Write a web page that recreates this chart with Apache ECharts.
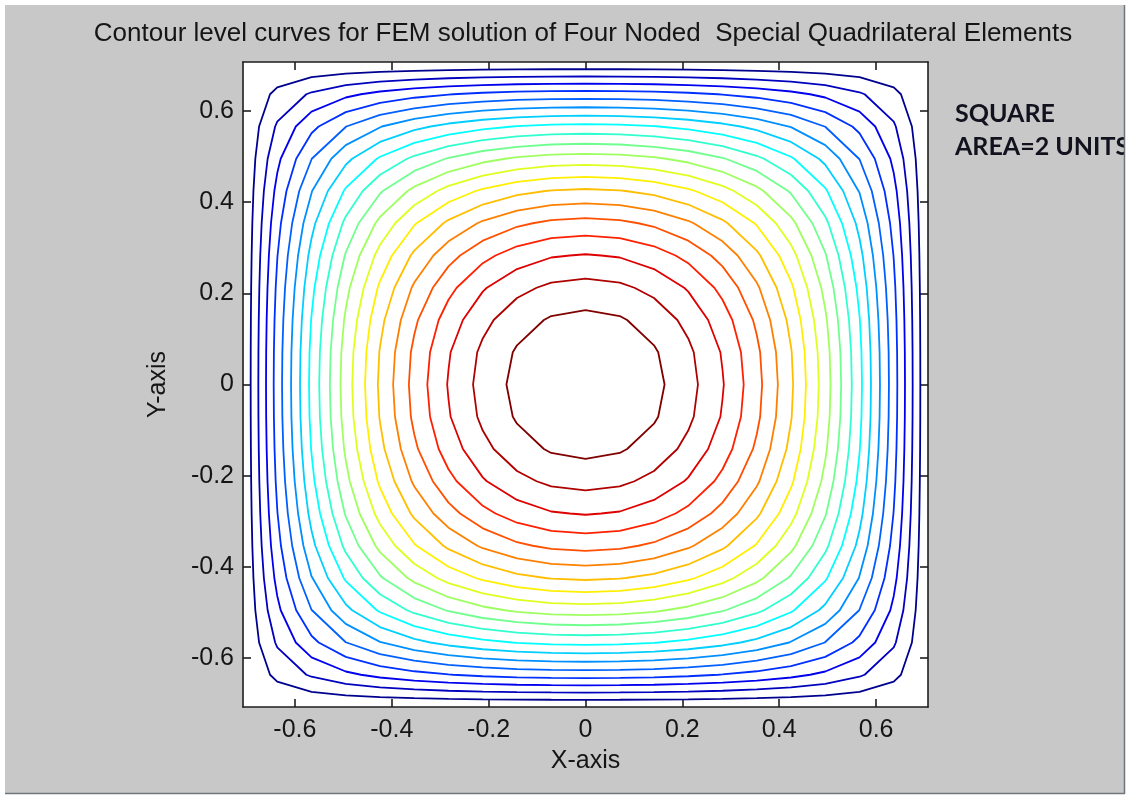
<!DOCTYPE html>
<html>
<head>
<meta charset="utf-8">
<title>Contour level curves – FEM solution, square domain</title>
<script src="https://cdn.jsdelivr.net/npm/echarts@6/dist/echarts.min.js"></script>
<style>
  html, body { margin: 0; padding: 0; background: #fff; }
  #wrap { position: relative; width: 1129px; height: 796px; overflow: hidden; }
  #panel { position: absolute; left: 5px; top: 5px; width: 1119px; height: 788px; background: #c8c8c8; }
  #chart { position: absolute; left: 0; top: 0; width: 1129px; height: 796px; }
</style>
</head>
<body>
<div id="wrap"><div id="panel"></div><div id="chart"></div></div>
<script>
// Mesh node coordinates (same along x and y): 20 equal divisions of the side.
const nodeCoords = [
  -0.70711, -0.63640, -0.56569, -0.49497, -0.42426, -0.35355, -0.28284,
  -0.21213, -0.14142, -0.07071, 0, 0.07071, 0.14142, 0.21213, 0.28284,
  0.35355, 0.42426, 0.49497, 0.56569, 0.63640, 0.70711
];

// Normalised nodal values (max = 1) for one quadrant of the mesh.
// Row r = r-th node row counted from the edge (row 10 is the centre line),
// column c = c-th node column counted from the edge (column 10 is the centre).
const quadrantValues = [
  [0, 0,      0,      0,      0,      0,      0,      0,      0,      0,      0     ],
  [0, 0.0603, 0.1014, 0.1323, 0.1562, 0.1748, 0.1891, 0.1997, 0.2069, 0.2112, 0.2126],
  [0, 0.1014, 0.1781, 0.2374, 0.2838, 0.3201, 0.3480, 0.3687, 0.3830, 0.3914, 0.3942],
  [0, 0.1323, 0.2374, 0.3209, 0.3873, 0.4396, 0.4800, 0.5102, 0.5310, 0.5433, 0.5473],
  [0, 0.1562, 0.2838, 0.3873, 0.4706, 0.5369, 0.5885, 0.6270, 0.6537, 0.6694, 0.6746],
  [0, 0.1748, 0.3201, 0.4396, 0.5369, 0.6149, 0.6759, 0.7216, 0.7533, 0.7721, 0.7782],
  [0, 0.1891, 0.3480, 0.4800, 0.5885, 0.6759, 0.7445, 0.7961, 0.8321, 0.8533, 0.8603],
  [0, 0.1997, 0.3687, 0.5102, 0.6270, 0.7216, 0.7961, 0.8524, 0.8916, 0.9147, 0.9224],
  [0, 0.2069, 0.3830, 0.5310, 0.6537, 0.7533, 0.8321, 0.8916, 0.9331, 0.9577, 0.9658],
  [0, 0.2112, 0.3914, 0.5433, 0.6694, 0.7721, 0.8533, 0.9147, 0.9577, 0.9831, 0.9915],
  [0, 0.2126, 0.3942, 0.5473, 0.6746, 0.7782, 0.8603, 0.9224, 0.9658, 0.9915, 1.0000]
];

// Twenty contour levels, evenly spaced between the edge value and the peak.
const contourLevels = [
  0.0476, 0.0952, 0.1429, 0.1905, 0.2381, 0.2857, 0.3333, 0.3810, 0.4286, 0.4762,
  0.5238, 0.5714, 0.6190, 0.6667, 0.7143, 0.7619, 0.8095, 0.8571, 0.9048, 0.9524
];

const tickValues = [-0.6, -0.4, -0.2, 0, 0.2, 0.4, 0.6];
const tickLabels = ['-0.6', '-0.4', '-0.2', '0', '0.2', '0.4', '0.6'];

const titleText = 'Contour level curves for FEM solution of Four Noded  Special Quadrilateral Elements';
const noteLines = ['SQUARE', 'AREA=2 UNITS'];

// ---------------------------------------------------------------------------

const last = nodeCoords.length - 1;
// Nodal value anywhere on the full mesh (the quadrant table mirrored both ways).
function nodal(i, j) {
  return quadrantValues[Math.min(j, last - j)][Math.min(i, last - i)];
}

// Edge crossings of one level (linear interpolation along mesh edges),
// ordered around the centre to give a closed polyline.
function contourLoop(level) {
  const pts = [];
  for (let j = 0; j <= last; j++) {
    for (let i = 0; i <= last; i++) {
      const v = nodal(i, j);
      if (i < last) {
        const w = nodal(i + 1, j);
        if ((v < level) !== (w < level)) {
          const t = (level - v) / (w - v);
          pts.push([nodeCoords[i] + t * (nodeCoords[i + 1] - nodeCoords[i]), nodeCoords[j]]);
        }
      }
      if (j < last) {
        const w = nodal(i, j + 1);
        if ((v < level) !== (w < level)) {
          const t = (level - v) / (w - v);
          pts.push([nodeCoords[i], nodeCoords[j] + t * (nodeCoords[j + 1] - nodeCoords[j])]);
        }
      }
    }
  }
  pts.sort((a, b) => Math.atan2(a[1], a[0]) - Math.atan2(b[1], b[0]));
  pts.push(pts[0]);
  return pts;
}

// MATLAB-style 64-entry jet colormap lookup.
function jet64(idx) {
  const u = (k) => (k >= 1 && k <= 16) ? k / 16 : (k >= 17 && k <= 31) ? 1 : (k >= 32 && k <= 47) ? (48 - k) / 16 : 0;
  const r = idx >= 25 ? u(idx - 24) : 0;
  const g = (idx >= 9 && idx <= 55) ? u(idx - 8) : 0;
  const b = idx <= 39 ? u(idx + 8) : 0;
  const c = (x) => Math.round(x * 255);
  return 'rgb(' + c(r) + ',' + c(g) + ',' + c(b) + ')';
}
function levelColor(k, count) {
  const t = count > 1 ? k / (count - 1) : 0;
  return jet64(Math.min(64, Math.floor(t * 64) + 1));
}

function tickText(v) {
  for (let i = 0; i < tickValues.length; i++) {
    if (Math.abs(tickValues[i] - v) < 1e-9) return tickLabels[i];
  }
  return '';
}

const uiFont = '"Liberation Sans", Arial, Helvetica, sans-serif';
const axisColor = '#1e1e1e';
const labelStyle = { fontFamily: uiFont, fontSize: 25, color: '#151515' };
const lo = nodeCoords[0], hi = nodeCoords[last];

function makeAxis(position, withLabels) {
  return {
    type: 'value',
    position: position,
    min: lo,
    max: hi,
    axisLine: { show: true, onZero: false, lineStyle: { color: axisColor, width: 1.6 } },
    axisTick: { show: true, inside: true, length: 8, customValues: tickValues,
                lineStyle: { color: axisColor, width: 1.6 } },
    axisLabel: withLabels
      ? Object.assign({ show: true, customValues: tickValues, formatter: tickText, margin: 11 }, labelStyle)
      : { show: false },
    splitLine: { show: false }
  };
}

const xBottom = makeAxis('bottom', true);
xBottom.name = 'X-axis';
xBottom.nameLocation = 'middle';
xBottom.nameGap = 42;
xBottom.nameTextStyle = { fontFamily: uiFont, fontSize: 25, color: '#151515' };

const yLeft = makeAxis('left', true);
yLeft.axisLabel.margin = 9;
yLeft.name = 'Y-axis';
yLeft.nameLocation = 'middle';
yLeft.nameRotate = 90;
yLeft.nameGap = 72;
yLeft.nameTextStyle = { fontFamily: uiFont, fontSize: 25, color: '#151515' };

const chart = echarts.init(document.getElementById('chart'), null, { renderer: 'canvas' });

chart.setOption({
  backgroundColor: 'transparent',
  animation: false,
  grid: { left: 243, top: 62, right: 201, bottom: 89, show: true,
          backgroundColor: '#ffffff', borderWidth: 0, containLabel: false },
  xAxis: [xBottom, makeAxis('top', false)],
  yAxis: [yLeft, makeAxis('right', false)],
  series: contourLevels.map((lv, k) => ({
    type: 'line',
    name: 'level ' + lv,
    xAxisIndex: 0,
    yAxisIndex: 0,
    data: contourLoop(lv),
    showSymbol: false,
    symbol: 'none',
    silent: true,
    clip: true,
    lineStyle: { color: levelColor(k, contourLevels.length), width: 1.8 },
    z: 2
  })),
  graphic: [
    { type: 'text', z: 50, style: { text: titleText, x: 583, y: 34, align: 'center', verticalAlign: 'middle',
        font: '26px ' + uiFont, fill: '#151515' } },
    { type: 'text', z: 50, style: { text: noteLines[0], x: 955, y: 114, align: 'left', verticalAlign: 'middle',
        font: 'bold 25px Lato, "Open Sans", sans-serif', fill: '#12121e' } },
    { type: 'text', z: 50, style: { text: noteLines[1], x: 955, y: 147, align: 'left', verticalAlign: 'middle',
        font: 'bold 25px Lato, "Open Sans", sans-serif', fill: '#12121e' } },
    // window frame on the right and bottom
    { type: 'rect', z: 60, shape: { x: 1125, y: 0, width: 10, height: 796 }, style: { fill: '#ffffff' } },
    { type: 'rect', z: 60, shape: { x: 0, y: 794, width: 1129, height: 4 }, style: { fill: '#ffffff' } },
    { type: 'line', z: 61, shape: { x1: 1124.5, y1: 5, x2: 1124.5, y2: 794 }, style: { stroke: '#6f767c', lineWidth: 1.5 } },
    { type: 'line', z: 61, shape: { x1: 5, y1: 793.5, x2: 1125, y2: 793.5 }, style: { stroke: '#6f767c', lineWidth: 1.5 } }
  ]
});
</script>
</body>
</html>
